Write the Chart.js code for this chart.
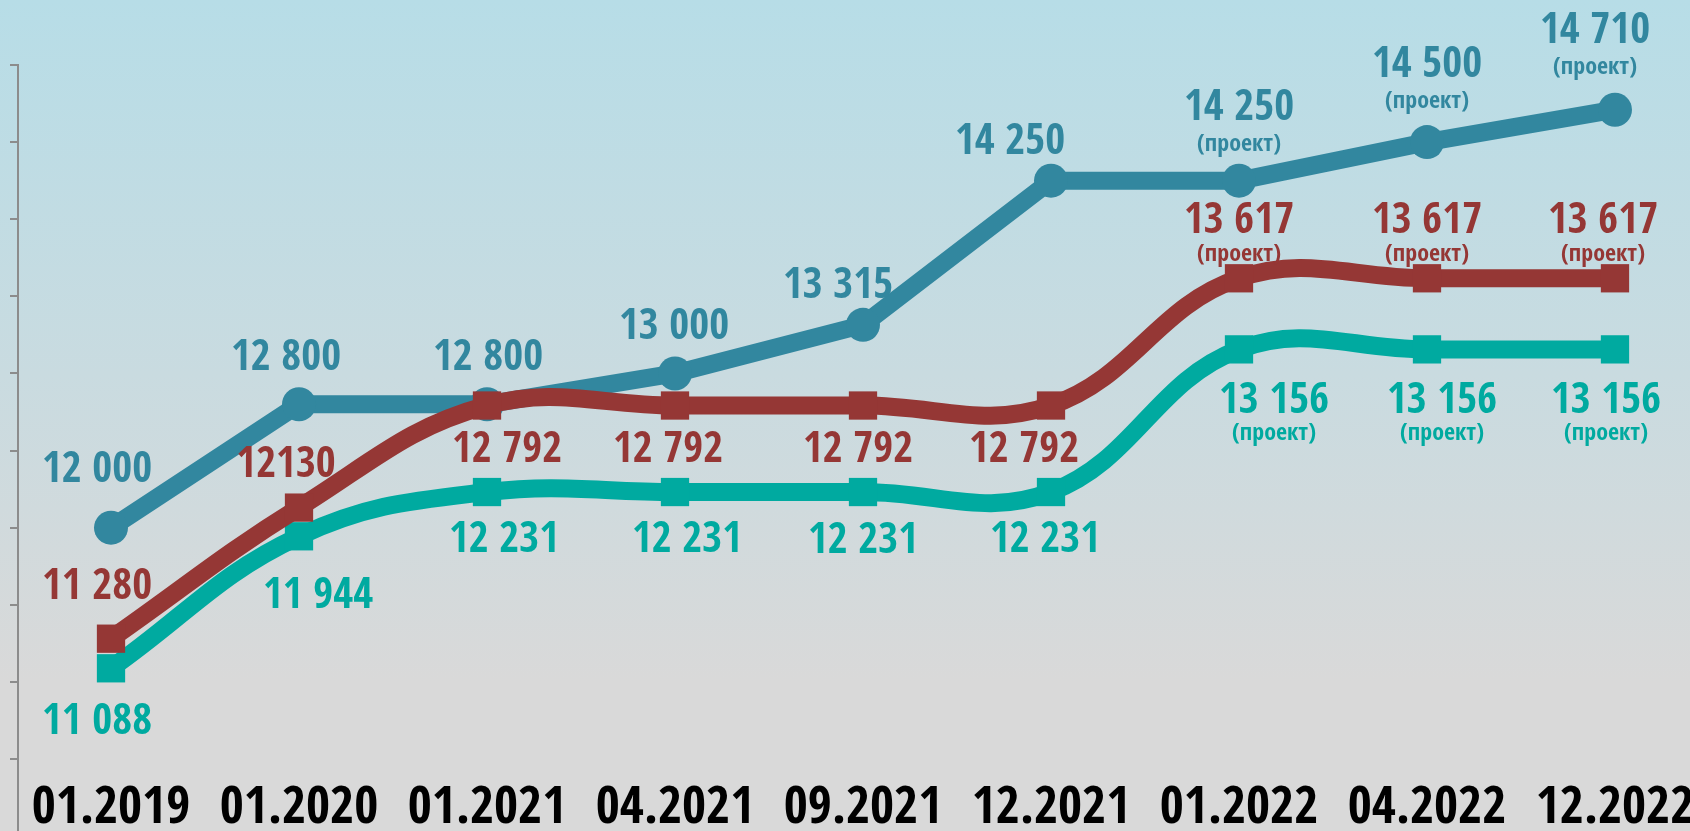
<!DOCTYPE html>
<html lang="ru">
<head>
    <meta charset="UTF-8">
    <title>Средняя заработная плата</title>
    <script src="https://cdn.jsdelivr.net/npm/chart.js"></script>
    <style>
        body {
            margin: 0;
            width: 1690px;
            height: 831px;
            overflow: hidden;
            /* light blue at the top fading into grey */
            background: linear-gradient(to bottom, #b7dde7 0%, #c9dbe0 45%, #d9d9d9 82%, #d9d9d9 100%);
        }

        #chart-box {
            position: relative;
            width: 1690px;
            height: 831px;
        }
    </style>
</head>
<body>
    <div id="chart-box">
        <canvas id="chart"></canvas>
    </div>

    <script>
        const periods = ['01.2019', '01.2020', '01.2021', '04.2021', '09.2021', '12.2021', '01.2022', '04.2022', '12.2022'];
        const seriesBlue = [12000, 12800, 12800, 13000, 13315, 14250, 14250, 14500, 14710];
        const seriesRed = [11280, 12130, 12792, 12792, 12792, 12792, 13617, 13617, 13617];
        const seriesTeal = [11088, 11944, 12231, 12231, 12231, 12231, 13156, 13156, 13156];
        const yTicks = [10500, 11000, 11500, 12000, 12500, 13000, 13500, 14000, 14500, 15000];
        const projectFrom = 6; // from 01.2022 on the values are planned
        const projectText = '(проект)';

        const FONT = '"Open Sans Condensed", "Roboto Condensed", "DejaVu Sans Condensed", sans-serif';

        // where each value label sits relative to its point [dx, dy]
        const blueLabelPos = [[-14, -57], [-13, -45], [1, -45], [-1, -46], [-25, -38], [-41, -38], [0, -72], [0, -76], [-20, -78]];
        const redLabelPos = [[-14, -51], [-13, -42], [20, 45], [-7, 45], [-5, 45], [-27, 45], [0, -57], [0, -57], [-12, -57]];
        const tealLabelPos = [[-14, 54], [19, 60], [17, 49], [12, 49], [0, 50], [-6, 49], [35, 52], [15, 52], [-9, 52]];

        function fmt(v) {
            return String(v).replace(/\B(?=(\d{3})+(?!\d))/g, ' ');
        }

        function toXY(arr) {
            return arr.map((v, i) => ({ x: i, y: v }));
        }

        const redText = seriesRed.map(fmt);
        redText[1] = String(seriesRed[1]); // written without a space in the original

        const valueLabels = {
            id: 'valueLabels',
            afterDatasetsDraw(chart) {
                const ctx = chart.ctx;
                chart.data.datasets.forEach((ds, di) => {
                    const meta = chart.getDatasetMeta(di);
                    meta.data.forEach((pt, i) => {
                        const [dx, dy] = ds.labelPos[i];
                        ctx.save();
                        ctx.fillStyle = ds.borderColor;
                        ctx.textAlign = 'center';
                        ctx.textBaseline = 'middle';
                        ctx.font = 'bold 43px ' + FONT;
                        ctx.fillText(ds.labelText[i], pt.x + dx, pt.y + dy);
                        if (i >= projectFrom) {
                            ctx.font = 'bold 24px ' + FONT;
                            ctx.fillText(projectText, pt.x + dx, pt.y + dy + ds.projGap);
                        }
                        ctx.restore();
                    });
                });
            }
        };

        new Chart(document.getElementById('chart'), {
            type: 'line',
            data: {
                datasets: [
                    {
                        label: 'red',
                        data: toXY(seriesRed),
                        labelText: redText,
                        labelPos: redLabelPos,
                        projGap: 33,
                        borderColor: '#953735',
                        backgroundColor: '#953735',
                        borderWidth: 18,
                        tension: 0.4,
                        pointStyle: 'rect',
                        pointRadius: 20,
                        pointBorderWidth: 0,
                        order: 0
                    },
                    {
                        label: 'teal',
                        data: toXY(seriesTeal),
                        labelText: seriesTeal.map(fmt),
                        labelPos: tealLabelPos,
                        projGap: 32,
                        borderColor: '#00aaa0',
                        backgroundColor: '#00aaa0',
                        borderWidth: 18,
                        tension: 0.4,
                        pointStyle: 'rect',
                        pointRadius: 20,
                        pointBorderWidth: 0,
                        order: 1
                    },
                    {
                        label: 'blue',
                        data: toXY(seriesBlue),
                        labelText: seriesBlue.map(fmt),
                        labelPos: blueLabelPos,
                        projGap: 36,
                        borderColor: '#32879f',
                        backgroundColor: '#32879f',
                        borderWidth: 18,
                        tension: 0,
                        pointStyle: 'circle',
                        pointRadius: 17,
                        pointBorderWidth: 0,
                        order: 2
                    }
                ]
            },
            options: {
                responsive: true,
                maintainAspectRatio: false,
                animation: false,
                layout: {
                    autoPadding: false,
                    padding: { left: 10, top: 65, right: 0, bottom: 0 }
                },
                plugins: {
                    legend: { display: false },
                    tooltip: { enabled: false }
                },
                scales: {
                    x: {
                        type: 'linear',
                        min: -0.4947,
                        max: 8.399,
                        afterBuildTicks: scale => {
                            scale.ticks = periods.map((_, i) => ({ value: i }));
                        },
                        afterFit: scale => {
                            // labels sit inside the plot so the y axis runs to the bottom edge
                            scale.height = 0;
                            scale.paddingLeft = 0;
                            scale.paddingRight = 0;
                        },
                        ticks: {
                            callback: v => periods[v],
                            color: '#000',
                            font: { family: FONT, size: 52, weight: 'bold', lineHeight: 0.6 },
                            mirror: true,
                            padding: 6,
                            maxRotation: 0,
                            autoSkip: false
                        },
                        grid: { display: false, drawTicks: false },
                        border: { display: false }
                    },
                    y: {
                        min: 10033,
                        max: 15000,
                        afterBuildTicks: scale => {
                            scale.ticks = yTicks.map(v => ({ value: v }));
                        },
                        ticks: { display: false },
                        grid: {
                            drawOnChartArea: false,
                            drawTicks: true,
                            tickLength: 8,
                            color: '#8c8c8c',
                            lineWidth: 2
                        },
                        border: { display: true, color: '#8c8c8c', width: 2 }
                    }
                }
            },
            plugins: [valueLabels]
        });
    </script>
</body>
</html>
